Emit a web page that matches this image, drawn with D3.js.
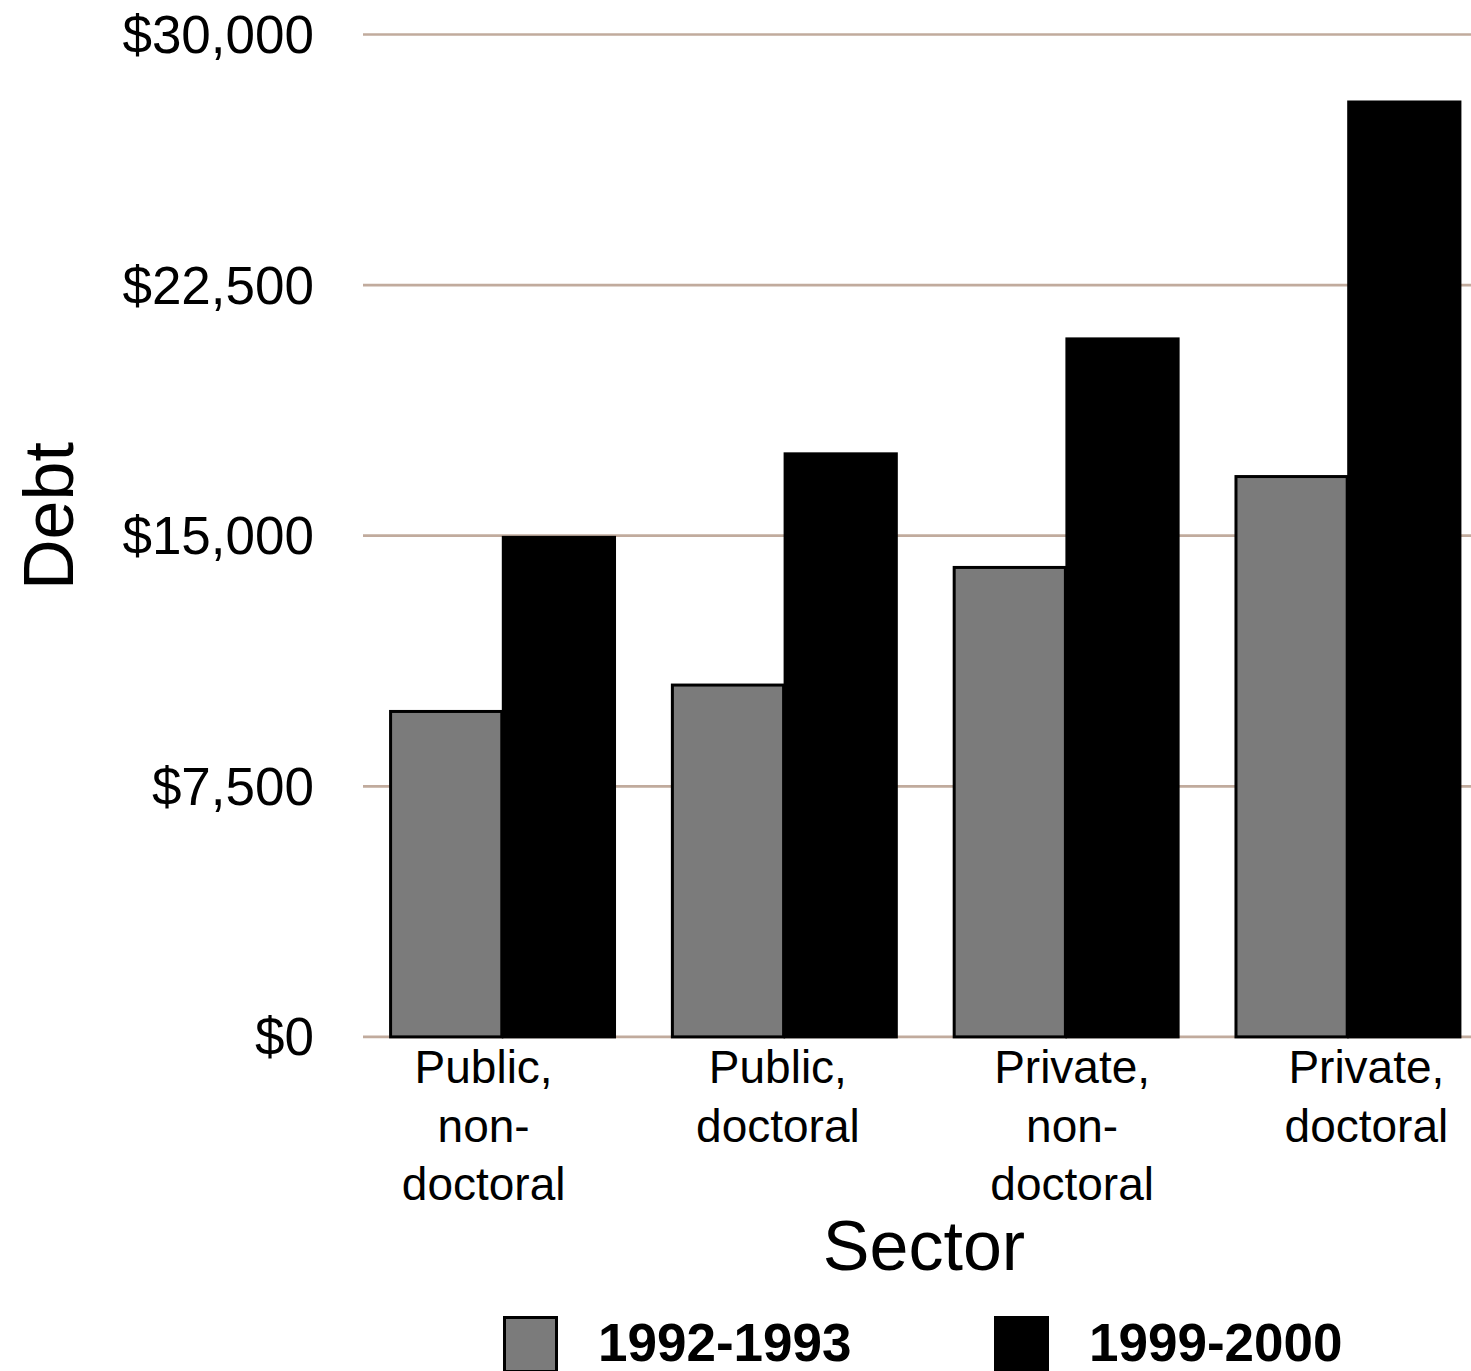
<!DOCTYPE html>
<html>
<head>
<meta charset="utf-8">
<script src="https://cdn.jsdelivr.net/npm/d3@7"></script>
<style>
  html, body { margin: 0; padding: 0; background: #fff; }
  svg { display: block; }
  text { font-family: "Liberation Sans", Arial, Helvetica, sans-serif; fill: #000; }
</style>
</head>
<body>
<svg id="chart" width="1471" height="1371"></svg>
<script>
// Average debt by sector, two cohorts
const sectors = ["Public, non-doctoral", "Public, doctoral", "Private, non-doctoral", "Private, doctoral"];
const sectorLines = [["Public,", "non-", "doctoral"], ["Public,", "doctoral"], ["Private,", "non-", "doctoral"], ["Private,", "doctoral"]];
const cohorts = ["1992-1993", "1999-2000"];
const debt1992 = [9740, 10530, 14050, 16770];
const debt1999 = [14950, 17450, 20890, 27980];
const yTicks = [0, 7500, 15000, 22500, 30000];
const colors = ["#7b7b7b", "#000000"];

const svg = d3.select("#chart");
const W = 1471, H = 1371;

const y = d3.scaleLinear().domain([0, 30000]).range([1036.9, 34.5]);

const x0 = d3.scaleBand().domain(sectors)
  .range([360.9, 1488.1]).paddingInner(0.2).paddingOuter(0.1);
const x1 = d3.scaleBand().domain(cohorts).range([0, x0.bandwidth()]);

// category labels sit on their own slightly wider band
const xLabel = d3.scaleBand().domain(sectors).range([336.5, 1513.5]);

// gridlines
const grid = svg.append("g");
grid.selectAll("line").data(yTicks).join("line")
  .attr("x1", 363).attr("x2", W)
  .attr("y1", d => y(d)).attr("y2", d => y(d))
  .attr("stroke", "#c1ab9d").attr("stroke-width", 2.7);

// y tick labels
const fmt = d3.format(",");
svg.append("g").selectAll("text").data(yTicks).join("text")
  .attr("x", 314).attr("y", d => y(d))
  .attr("dy", "0.35em")
  .attr("text-anchor", "end")
  .attr("font-size", 53)
  .text(d => "$" + fmt(d));

// bars
const rows = sectors.map((s, i) => ({ sector: s, values: [debt1992[i], debt1999[i]] }));
const groups = svg.append("g").selectAll("g").data(rows).join("g")
  .attr("transform", d => `translate(${x0(d.sector)},0)`);
groups.selectAll("rect").data(d => d.values.map((v, j) => ({ cohort: cohorts[j], value: v, j })))
  .join("rect")
  .attr("x", d => x1(d.cohort) + 1.5)
  .attr("width", x1.bandwidth() - 1.5)
  .attr("y", d => y(d.value))
  .attr("height", d => y(0) - y(d.value))
  .attr("fill", d => colors[d.j])
  .attr("stroke", "#000")
  .attr("stroke-width", 3);

// category labels
const lab = svg.append("g").selectAll("text").data(sectors).join("text")
  .attr("x", d => xLabel(d) + xLabel.bandwidth() / 2)
  .attr("y", 1083)
  .attr("text-anchor", "middle")
  .attr("font-size", 46);
lab.each(function (d, i) {
  const t = d3.select(this);
  sectorLines[i].forEach((line, k) => {
    t.append("tspan")
      .attr("x", xLabel(d) + xLabel.bandwidth() / 2)
      .attr("y", 1083 + k * 58.5)
      .text(line);
  });
});

// axis titles
svg.append("text")
  .attr("x", 924).attr("y", 1270)
  .attr("text-anchor", "middle")
  .attr("font-size", 70)
  .text("Sector");

svg.append("text")
  .attr("transform", "translate(73,516) rotate(-90)")
  .attr("text-anchor", "middle")
  .attr("font-size", 70)
  .text("Debt");

// legend
const legend = svg.append("g").selectAll("g").data(cohorts).join("g")
  .attr("transform", (d, i) => `translate(${503 + i * 491},1316)`);
legend.append("rect")
  .attr("x", 1.5).attr("y", 1.5)
  .attr("width", 52).attr("height", 54)
  .attr("fill", (d, i) => colors[i])
  .attr("stroke", "#000").attr("stroke-width", 3);
legend.append("text")
  .attr("x", 95).attr("y", 45)
  .attr("font-size", 53)
  .attr("font-weight", "bold")
  .text(d => d);
</script>
</body>
</html>
